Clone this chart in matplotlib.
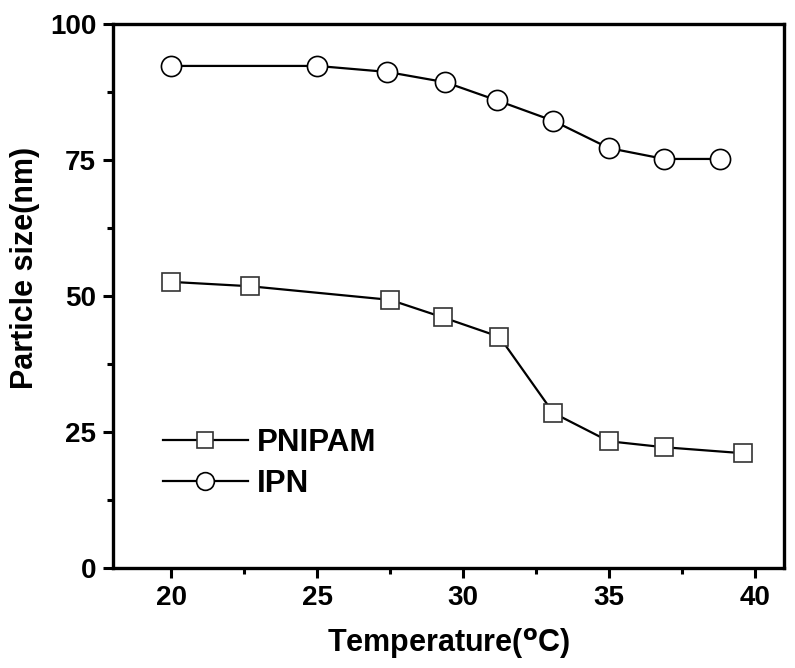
import matplotlib
matplotlib.use("Agg")
import matplotlib.pyplot as plt
from matplotlib.ticker import MultipleLocator

plt.rcParams['font.family'] = ['Liberation Sans', 'DejaVu Sans']
plt.rcParams['font.weight'] = 'bold'
plt.rcParams['mathtext.default'] = 'bf'

# data
pnipam_t = [20.0, 22.7, 27.5, 29.3, 31.25, 33.1, 35.0, 36.9, 39.6]
pnipam_size = [52.6, 51.8, 49.3, 46.1, 42.5, 28.5, 23.3, 22.2, 21.1]
ipn_t = [20.0, 25.0, 27.4, 29.4, 31.15, 33.1, 35.0, 36.9, 38.8]
ipn_size = [92.3, 92.3, 91.2, 89.3, 86.0, 82.2, 77.2, 75.2, 75.2]

fig = plt.figure(figsize=(7.95, 6.68), dpi=100)
ax = fig.add_axes([0.142, 0.1497, 0.844, 0.8143])

ax.plot(pnipam_t, pnipam_size, color='black', lw=1.6, marker='s', ms=13,
        mfc='white', mec='#333333', mew=1.2, label='PNIPAM')
ax.plot(ipn_t, ipn_size, color='black', lw=1.6, marker='o', ms=14.5,
        mfc='white', mec='black', mew=1.2, label='IPN')

ax.set_xlim(18, 41)
ax.set_ylim(0, 100)
ax.xaxis.set_major_locator(MultipleLocator(5))
ax.xaxis.set_minor_locator(MultipleLocator(2.5))
ax.yaxis.set_major_locator(MultipleLocator(25))
ax.yaxis.set_minor_locator(MultipleLocator(12.5))
ax.tick_params(which='major', direction='out', length=7, width=2.2,
               labelsize=20, pad=5)
ax.tick_params(which='minor', direction='out', length=4, width=2.2)
for s in ax.spines.values():
    s.set_linewidth(2.4)

ax.set_xlabel('Temperature($^{o}$C)', fontsize=22, fontweight='bold', labelpad=11)
ax.set_ylabel('Particle size(nm)', fontsize=22, fontweight='bold')
ax.yaxis.set_label_coords(-0.108, 0.551)

ax.legend(loc='lower left', bbox_to_anchor=(0.033, 0.075), frameon=False,
          fontsize=22.5, handlelength=2.7, handletextpad=0.3, labelspacing=0.35,
          markerscale=0.88)

fig.savefig('out.png', dpi=100)
